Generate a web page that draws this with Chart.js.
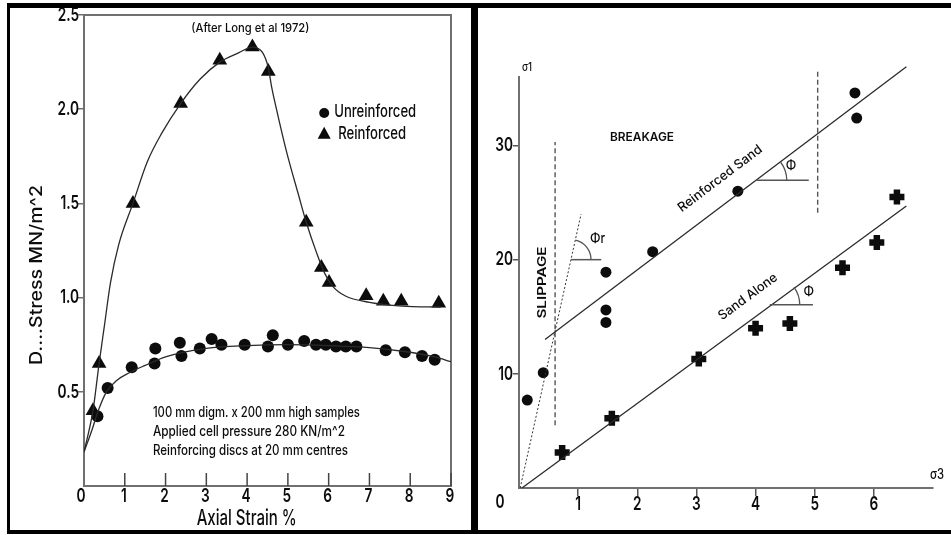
<!DOCTYPE html>
<html>
<head>
<meta charset="utf-8">
<script src="https://cdn.jsdelivr.net/npm/chart.js@4.4.1/dist/chart.umd.min.js"></script>
<style>
  html, body { margin: 0; padding: 0; background: #fff; }
  #page { position: relative; width: 951px; height: 535px; overflow: hidden; background: #fff; }
  #page canvas { position: absolute; top: 0; }
  #leftChart { left: 0; }
  #rightChart { left: 478px; }
  .bar { position: absolute; background: #000; }
</style>
</head>
<body>
<div id="page">
  <canvas id="leftChart" width="471" height="535"></canvas>
  <canvas id="rightChart" width="473" height="535"></canvas>
  <div class="bar" style="left:7px;top:3px;width:944px;height:5px"></div>
  <div class="bar" style="left:7px;top:3px;width:3px;height:531px"></div>
  <div class="bar" style="left:7px;top:530px;width:944px;height:4px"></div>
  <div class="bar" style="left:471px;top:3px;width:7px;height:531px"></div>
</div>
<script>
// ---------- Left panel: deviator stress against axial strain ----------
const strainUnreinforced = [0.33, 0.58, 1.17, 1.75, 1.73, 2.35, 2.39, 2.84, 3.13, 3.37, 3.94, 4.51, 4.63, 5.00, 5.40, 5.69, 5.93, 6.18, 6.42, 6.68, 7.40, 7.87, 8.29, 8.60];
const stressUnreinforced = [0.37, 0.52, 0.63, 0.73, 0.65, 0.76, 0.69, 0.73, 0.78, 0.75, 0.75, 0.74, 0.80, 0.75, 0.77, 0.75, 0.75, 0.74, 0.74, 0.74, 0.72, 0.71, 0.69, 0.67];
const strainReinforced = [0.22, 0.37, 1.20, 2.37, 3.33, 4.13, 4.52, 5.45, 5.82, 6.01, 6.92, 7.34, 7.78, 8.70];
const stressReinforced = [0.40, 0.65, 1.50, 2.03, 2.26, 2.33, 2.20, 1.40, 1.16, 1.08, 1.01, 0.98, 0.98, 0.97];

// hand-drawn trend curves through each set
const curveUnreinforcedX = [0, 0.2, 0.35, 0.55, 0.8, 1.1, 1.5, 2.0, 3.0, 4.0, 5.0, 6.0, 7.0, 8.0, 8.6, 9.0];
const curveUnreinforcedY = [0.18, 0.30, 0.40, 0.50, 0.56, 0.60, 0.64, 0.685, 0.73, 0.745, 0.75, 0.745, 0.735, 0.71, 0.685, 0.66];
const curveReinforcedX = [0, 0.22, 0.37, 0.5, 0.65, 0.85, 1.2, 1.55, 1.9, 2.37, 2.85, 3.33, 3.8, 4.13, 4.38, 4.52, 4.6, 4.72, 4.96, 5.28, 5.45, 5.7, 5.9, 6.1, 6.4, 7.0, 7.8, 8.75];
const curveReinforcedY = [0.18, 0.40, 0.65, 0.85, 1.08, 1.28, 1.50, 1.72, 1.87, 2.03, 2.16, 2.25, 2.30, 2.33, 2.30, 2.22, 2.12, 2.00, 1.78, 1.53, 1.40, 1.24, 1.13, 1.06, 1.01, 0.975, 0.955, 0.95];

const strainTicks = [0, 1, 2, 3, 4, 5, 6, 7, 8, 9];
const stressTicks = [0.5, 1.0, 1.5, 2.0, 2.5];
const seriesNames = ['Unreinforced', 'Reinforced'];
const noteLines = ['100 mm digm. x 200 mm high samples', 'Applied cell pressure 280 KN/m^2', 'Reinforcing discs at 20 mm centres'];
const sourceNote = '(After Long et al 1972)';
const leftTitles = { x: 'Axial Strain %', y: 'D....Stress MN/m^2' };

// ---------- Right panel: sigma1 against sigma3 ----------
const sigma3Reinforced = [0.14, 0.41, 1.47, 1.47, 1.47, 2.26, 3.70, 5.68, 5.71];
const sigma1Reinforced = [7.7, 10.1, 14.5, 15.6, 18.9, 20.7, 26.0, 34.6, 32.4];
const sigma3Sand = [0.73, 1.57, 3.04, 4.00, 4.58, 5.47, 6.05, 6.39];
const sigma1Sand = [3.1, 6.1, 11.3, 14.0, 14.4, 19.3, 21.5, 25.5];

const envReinforcedX = [0.44, 6.55], envReinforcedY = [13.0, 36.9];
const envSandX = [0.05, 6.55], envSandY = [0, 24.7];
const envSlipX = [0.02, 1.05], envSlipY = [0, 24.0];
const slipLimitX = [0.61, 0.61], slipLimitY = [5.5, 30.3];
const breakLimitX = [5.05, 5.05], breakLimitY = [24.1, 36.6];
const sigma3Ticks = [1, 2, 3, 4, 5, 6];
const sigma1Ticks = [10, 20, 30];

// ---------- shared styling ----------
const FF = 'Inter, Roboto, "Open Sans", sans-serif';
const fnt = (size, weight) => (weight || 'normal') + ' ' + size + 'px ' + FF;
const AXIS = '#707070';
const INK = '#0c0c0c';
const LINE = '#2a2a2a';
const TICK_FONT = fnt(19, '600');
const TICK_SQUEEZE = 0.72;

const pts = (xs, ys) => xs.map((v, i) => ({ x: v, y: ys[i] }));

// text drawn with optional horizontal squeeze, either a factor (sx) or a target width (w)
function drawText(ctx, str, x, y, o) {
  ctx.save();
  ctx.font = o.font;
  ctx.fillStyle = o.color || INK;
  ctx.textAlign = o.align || 'center';
  ctx.textBaseline = o.baseline || 'middle';
  let sx = o.sx || 1;
  if (o.w) sx = o.w / ctx.measureText(str).width;
  ctx.translate(x, y);
  if (o.rotate) ctx.rotate(o.rotate);
  ctx.scale(sx, 1);
  ctx.fillText(str, 0, 0);
  ctx.restore();
}
function seg(ctx, x1, y1, x2, y2, color, w) {
  ctx.save();
  ctx.strokeStyle = color; ctx.lineWidth = w;
  ctx.beginPath(); ctx.moveTo(x1, y1); ctx.lineTo(x2, y2); ctx.stroke();
  ctx.restore();
}

// ---------- left chart ----------
const leftDecor = {
  id: 'leftDecor',
  beforeDatasetsDraw(chart) {
    const { ctx, chartArea: a, scales: { x } } = chart;
    ctx.save();
    ctx.strokeStyle = AXIS; ctx.lineWidth = 2;
    ctx.strokeRect(a.left, a.top, a.right - a.left, a.bottom - a.top);
    ctx.restore();
    strainTicks.forEach(v => {
      if (v === 0) return;
      const px = x.getPixelForValue(v);
      seg(ctx, px, a.bottom, px, a.bottom - 13, '#444', 1.5);
    });
  },
  afterDraw(chart) {
    const { ctx, chartArea: a, scales: { x, y } } = chart;
    // tick labels
    strainTicks.forEach(v => drawText(ctx, String(v), x.getPixelForValue(v) - (v === 0 ? 3 : 1), a.bottom + 10,
      { font: TICK_FONT, sx: TICK_SQUEEZE }));
    stressTicks.forEach(v => drawText(ctx, v.toFixed(1), a.left - 5, y.getPixelForValue(v),
      { font: TICK_FONT, sx: TICK_SQUEEZE, align: 'right' }));
    // axis titles
    drawText(ctx, leftTitles.y, a.left - 47, y.getPixelForValue(1.12), { font: fnt(17, '500'), rotate: -Math.PI / 2, w: 180 });
    drawText(ctx, leftTitles.x, x.getPixelForValue(3.99), a.bottom + 33, { font: fnt(21, '500'), w: 100 });
    drawText(ctx, sourceNote, x.getPixelForValue(4.08), y.getPixelForValue(2.43), { font: fnt(12, '500'), w: 118 });
    // legend
    const lx = x.getPixelForValue(5.89);
    const ly1 = y.getPixelForValue(1.985), ly2 = y.getPixelForValue(1.87);
    ctx.save();
    ctx.fillStyle = INK;
    ctx.beginPath(); ctx.arc(lx, ly1 + 1, 5, 0, Math.PI * 2); ctx.fill();
    ctx.beginPath(); ctx.moveTo(lx, ly2 - 7); ctx.lineTo(lx + 6.5, ly2 + 5); ctx.lineTo(lx - 6.5, ly2 + 5); ctx.closePath(); ctx.fill();
    ctx.restore();
    drawText(ctx, seriesNames[0], lx + 10, ly1, { font: fnt(17, '500'), align: 'left', w: 82 });
    drawText(ctx, seriesNames[1], lx + 14, ly2, { font: fnt(17, '500'), align: 'left', w: 68 });
    // test conditions
    const ny = [0.39, 0.287, 0.186];
    const nw = [207, 192, 195];
    noteLines.forEach((t, i) => drawText(ctx, t, x.getPixelForValue(1.69), y.getPixelForValue(ny[i]),
      { font: fnt(14, '500'), align: 'left', w: nw[i] }));
  }
};

new Chart(document.getElementById('leftChart'), {
  type: 'scatter',
  data: {
    datasets: [
      { label: seriesNames[0] + ' trend', data: pts(curveUnreinforcedX, curveUnreinforcedY), showLine: true, pointRadius: 0,
        borderColor: LINE, borderWidth: 1.3, cubicInterpolationMode: 'monotone' },
      { label: seriesNames[1] + ' trend', data: pts(curveReinforcedX, curveReinforcedY), showLine: true, pointRadius: 0,
        borderColor: LINE, borderWidth: 1.3, cubicInterpolationMode: 'monotone' },
      { label: seriesNames[0], data: pts(strainUnreinforced, stressUnreinforced), pointStyle: 'circle', pointRadius: 6,
        backgroundColor: INK, borderColor: INK, borderWidth: 0 },
      { label: seriesNames[1], data: pts(strainReinforced, stressReinforced), pointStyle: 'triangle', pointRadius: 8.5,
        backgroundColor: INK, borderColor: INK, borderWidth: 0 }
    ]
  },
  options: {
    responsive: false, animation: false, events: [],
    layout: { padding: { left: 0, right: 20, top: 15, bottom: 0 } },
    plugins: { legend: { display: false }, tooltip: { enabled: false } },
    scales: {
      x: {
        type: 'linear', min: 0, max: 9,
        afterFit: s => { s.height = 49; },
        border: { display: false },
        grid: { display: false },
        afterBuildTicks: s => { s.ticks = strainTicks.map(v => ({ value: v })); },
        ticks: { display: false }
      },
      y: {
        type: 'linear', min: 0, max: 2.5,
        afterFit: s => { s.width = 84; },
        border: { display: false },
        grid: { drawOnChartArea: false, tickLength: 6, color: AXIS, lineWidth: 1.5 },
        afterBuildTicks: s => { s.ticks = stressTicks.map(v => ({ value: v })); },
        ticks: { display: false }
      }
    }
  },
  plugins: [leftDecor]
});

// ---------- right chart ----------
const rightLabels = {
  breakage: { text: 'BREAKAGE', x: 2.08, y: 30.7, w: 64 },
  slippage: { text: 'SLIPPAGE', x: 0.39, y: 18.0, w: 72 },
  reinforced: { text: 'Reinforced Sand', x: 3.40, y: 27.1, w: 102 },
  sand: { text: 'Sand Alone', x: 3.87, y: 16.75, w: 70 }
};
// angle marks: vertex on an envelope, horizontal arm end, arc radius, symbol position
const angleMarks = [
  { lineX: envReinforcedX, lineY: envReinforcedY, vx: 4.02, vy: 26.95, armTo: 4.9, r: 30, sym: 'Φ', sx: 4.6, sy: 28.2 },
  { lineX: envSandX, lineY: envSandY, vx: 4.24, vy: 16.05, armTo: 4.97, r: 30, sym: 'Φ', sx: 4.9, sy: 17.2 },
  { lineX: envSlipX, lineY: envSlipY, vx: 0.88, vy: 20.0, armTo: 1.39, r: 20, sym: 'Φr', sx: 1.33, sy: 21.8 }
];

const rightDecor = {
  id: 'rightDecor',
  afterDraw(chart) {
    const { ctx, chartArea: a, scales: { x, y } } = chart;
    const P = (vx, vy) => [x.getPixelForValue(vx), y.getPixelForValue(vy)];

    // tick labels
    sigma3Ticks.forEach(v => drawText(ctx, String(v), x.getPixelForValue(v), a.bottom + 16, { font: TICK_FONT, sx: TICK_SQUEEZE }));
    sigma1Ticks.forEach(v => drawText(ctx, String(v), a.left - 6, y.getPixelForValue(v), { font: TICK_FONT, sx: TICK_SQUEEZE, align: 'right' }));

    angleMarks.forEach(m => {
      const [px, py] = P(m.vx, m.vy);
      const [ax] = P(m.armTo, m.vy);
      seg(ctx, px, py, ax, py, '#555', 1.5);
      const [x1, y1] = P(m.lineX[0], m.lineY[0]);
      const [x2, y2] = P(m.lineX[1], m.lineY[1]);
      const ang = Math.atan2(y2 - y1, x2 - x1);
      ctx.save();
      ctx.strokeStyle = '#555'; ctx.lineWidth = 1.3;
      ctx.beginPath(); ctx.arc(px, py, m.r, ang, 0); ctx.stroke();
      ctx.restore();
      const [sx, sy] = P(m.sx, m.sy);
      drawText(ctx, m.sym, sx, sy, { font: fnt(14, '500'), sx: 0.85 });
    });

    const angleOf = (xs, ys) => {
      const [x1, y1] = P(xs[0], ys[0]); const [x2, y2] = P(xs[1], ys[1]);
      return Math.atan2(y2 - y1, x2 - x1);
    };
    const L = rightLabels;
    let p = P(L.breakage.x, L.breakage.y);
    drawText(ctx, L.breakage.text, p[0], p[1], { font: fnt(12, '600'), w: L.breakage.w });
    p = P(L.slippage.x, L.slippage.y);
    drawText(ctx, L.slippage.text, p[0], p[1], { font: fnt(12, '600'), rotate: -Math.PI / 2, w: L.slippage.w });
    p = P(L.reinforced.x, L.reinforced.y);
    drawText(ctx, L.reinforced.text, p[0], p[1], { font: fnt(13, '500'), rotate: angleOf(envReinforcedX, envReinforcedY), w: L.reinforced.w });
    p = P(L.sand.x, L.sand.y);
    drawText(ctx, L.sand.text, p[0], p[1], { font: fnt(13, '500'), rotate: angleOf(envSandX, envSandY), w: L.sand.w });

    // axis names and the origin
    drawText(ctx, 'σ1', a.left + 3, a.top - 6, { font: fnt(12, '500'), align: 'left', baseline: 'alphabetic', sx: 0.8 });
    drawText(ctx, 'σ3', a.right + 4, a.bottom - 13, { font: fnt(14, '500'), sx: 0.8 });
    drawText(ctx, '0', a.left - 19, a.bottom + 14, { font: TICK_FONT, sx: TICK_SQUEEZE });
  }
};

const tickMark = (lo, hi) => c => (c.tick && c.tick.value > lo && c.tick.value < hi) ? '#555' : 'rgba(0,0,0,0)';

new Chart(document.getElementById('rightChart'), {
  type: 'scatter',
  data: {
    datasets: [
      { label: 'Reinforced Sand envelope', data: pts(envReinforcedX, envReinforcedY), showLine: true, pointRadius: 0,
        borderColor: LINE, borderWidth: 1.3, clip: false },
      { label: 'Sand Alone envelope', data: pts(envSandX, envSandY), showLine: true, pointRadius: 0,
        borderColor: LINE, borderWidth: 1.3, clip: false },
      { label: 'Slippage envelope', data: pts(envSlipX, envSlipY), showLine: true, pointRadius: 0,
        borderColor: '#333', borderWidth: 1, borderDash: [2, 2], clip: false },
      { label: 'Slippage limit', data: pts(slipLimitX, slipLimitY), showLine: true, pointRadius: 0,
        borderColor: '#555', borderWidth: 1.4, borderDash: [5, 3], clip: false },
      { label: 'Breakage limit', data: pts(breakLimitX, breakLimitY), showLine: true, pointRadius: 0,
        borderColor: '#555', borderWidth: 1.4, borderDash: [5, 3], clip: false },
      { label: 'Reinforced Sand', data: pts(sigma3Reinforced, sigma1Reinforced), pointStyle: 'circle', pointRadius: 5.5,
        backgroundColor: INK, borderColor: INK, borderWidth: 0, clip: false },
      { label: 'Sand Alone', data: pts(sigma3Sand, sigma1Sand), pointStyle: 'cross', pointRadius: 7.5,
        backgroundColor: INK, borderColor: INK, borderWidth: 6.5, clip: false }
    ]
  },
  options: {
    responsive: false, animation: false, events: [],
    layout: { padding: { left: 0, right: 18, top: 77, bottom: 0 } },
    plugins: { legend: { display: false }, tooltip: { enabled: false } },
    scales: {
      x: {
        type: 'linear', min: 0, max: 7,
        afterFit: s => { s.height = 47; },
        border: { display: true, color: AXIS, width: 2 },
        grid: { drawOnChartArea: false, tickLength: 8, color: tickMark(0, 7), lineWidth: 1.5 },
        afterBuildTicks: s => { s.ticks = [0].concat(sigma3Ticks, [7]).map(v => ({ value: v })); },
        ticks: { display: false }
      },
      y: {
        type: 'linear', min: 0, max: 36,
        afterFit: s => { s.width = 41; },
        border: { display: true, color: AXIS, width: 2 },
        grid: { drawOnChartArea: false, tickLength: 6, color: tickMark(0, 36), lineWidth: 1.5 },
        afterBuildTicks: s => { s.ticks = [0].concat(sigma1Ticks, [36]).map(v => ({ value: v })); },
        ticks: { display: false }
      }
    }
  },
  plugins: [rightDecor]
});
</script>
</body>
</html>
